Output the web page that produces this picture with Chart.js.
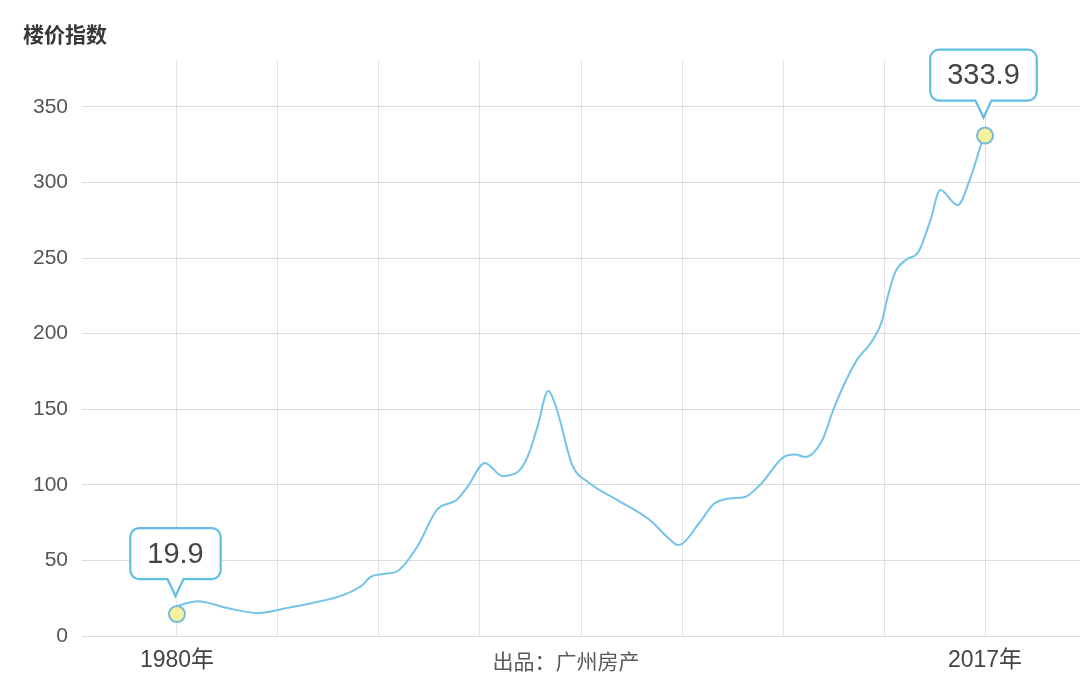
<!DOCTYPE html>
<html>
<head>
<meta charset="utf-8">
<script src="https://cdn.jsdelivr.net/npm/chart.js@4/dist/chart.umd.min.js"></script>
<style>
html,body{margin:0;padding:0;background:#fff;overflow:hidden;}
#wrap{width:1080px;height:692px;position:relative;}
</style>
</head>
<body>
<div id="wrap"><canvas id="c"></canvas></div>
<script>
// ---- data ----
const years = [1980, 1980.95, 1982.3, 1983.7, 1985.2, 1986.2, 1987.6, 1988.5, 1988.85, 1989.45, 1990.1, 1991.0, 1991.9, 1992.8, 1993.3, 1994.1, 1994.9, 1995.6, 1996.05, 1996.5, 1997.0, 1997.4, 1998.1, 1998.8, 2000.15, 2001.65, 2002.45, 2002.95, 2003.95, 2004.55, 2005.3, 2006.0, 2006.7, 2007.75, 2008.3, 2008.75, 2009.55, 2010.05, 2010.6, 2011.15, 2011.8, 2012.3, 2012.5, 2012.9, 2013.4, 2013.95, 2014.5, 2014.95, 2015.75, 2016.3, 2017];
const values = [19.9, 23, 18.5, 15.2, 19, 21.8, 27, 33.7, 39, 41, 43, 59, 83.4, 90, 98.6, 114.5, 105.9, 108.5, 118.4, 138, 162, 149.5, 113, 102, 90, 76.7, 65.5, 60.2, 75.4, 87, 91, 92, 100, 118, 120, 118.4, 129.7, 149.5, 168, 183, 194.5, 209, 222, 241, 249, 254, 275, 295, 285, 301.7, 333.9];
const markerYears = [1980, 2017];
const markerValues = [14.5, 331];
const calloutLabels = ['19.9', '333.9'];
const yTicks = [0, 50, 100, 150, 200, 250, 300, 350];
const xGridStep = 4.625;
const xLabelMap = {1980: '1980年', 2017: '2017年'};
const titleText = '楼价指数';
const footText = '出品：广州房产';

const FONT = '"Liberation Sans", "Noto Sans CJK SC", Arial, sans-serif';
const CJK = '"Noto Sans CJK SC", "Liberation Sans", sans-serif';

const lineData = years.map((y, i) => ({x: y, y: values[i]}));
const markerData = markerYears.map((y, i) => ({x: y, y: markerValues[i]}));

const calloutPlugin = {
  id: 'callouts',
  afterDatasetsDraw(chart) {
    const ctx = chart.ctx;
    const meta = chart.getDatasetMeta(1);
    ctx.save();
    ctx.font = '29px ' + FONT;
    meta.data.forEach((el, i) => {
      const txt = calloutLabels[i];
      const tw = ctx.measureText(txt).width;
      const w = tw + 34, h = 51, r = 9;
      const cx = el.x - 1.5;
      const bottom = el.y - 35;
      const top = bottom - h;
      const left = cx - w / 2, right = cx + w / 2;
      const tipY = el.y - 18;
      ctx.beginPath();
      ctx.moveTo(left + r, top);
      ctx.lineTo(right - r, top);
      ctx.arcTo(right, top, right, top + r, r);
      ctx.lineTo(right, bottom - r);
      ctx.arcTo(right, bottom, right - r, bottom, r);
      ctx.lineTo(cx + 8, bottom);
      ctx.lineTo(cx, tipY);
      ctx.lineTo(cx - 8, bottom);
      ctx.lineTo(left + r, bottom);
      ctx.arcTo(left, bottom, left, bottom - r, r);
      ctx.lineTo(left, top + r);
      ctx.arcTo(left, top, left + r, top, r);
      ctx.closePath();
      ctx.fillStyle = '#ffffff';
      ctx.fill();
      ctx.lineWidth = 2.2;
      ctx.strokeStyle = '#62bde6';
      ctx.stroke();
      ctx.fillStyle = '#444444';
      ctx.textAlign = 'center';
      ctx.textBaseline = 'middle';
      ctx.fillText(txt, cx, top + h / 2 + 1);
    });
    ctx.restore();
  }
};

const textPlugin = {
  id: 'texts',
  afterDraw(chart) {
    const ctx = chart.ctx;
    ctx.save();
    ctx.fillStyle = '#383838';
    ctx.font = 'bold 21px ' + CJK;
    ctx.textAlign = 'left';
    ctx.textBaseline = 'middle';
    ctx.fillText(titleText, 23, 34);
    ctx.fillStyle = '#5a5a5a';
    ctx.font = '21px ' + CJK;
    ctx.textAlign = 'center';
    ctx.fillText(footText, 566, 661);
    ctx.restore();
  }
};

new Chart(document.getElementById('c'), {
  type: 'line',
  data: {
    datasets: [
      {
        data: lineData,
        borderColor: '#74c3e9',
        borderWidth: 2,
        pointRadius: 0,
        fill: false,
        cubicInterpolationMode: 'monotone',
        order: 2
      },
      {
        data: markerData,
        showLine: false,
        pointRadius: 8,
        pointBackgroundColor: '#f4f29c',
        pointBorderColor: '#78b9dc',
        pointBorderWidth: 2,
        order: 1
      }
    ]
  },
  options: {
    responsive: true,
    maintainAspectRatio: false,
    animation: false,
    layout: {autoPadding: false, padding: {top: 60, left: 0, right: 0, bottom: 0}},
    plugins: {legend: {display: false}, tooltip: {enabled: false}, title: {display: false}},
    scales: {
      x: {
        type: 'linear',
        min: 1975.65,
        max: 2021.35,
        afterBuildTicks(scale) {
          const t = [];
          for (let k = 0; k <= 8; k++) t.push({value: 1980 + k * xGridStep});
          scale.ticks = t;
        },
        afterFit(scale) {
          scale.height = 56;
          scale.paddingLeft = 0;
          scale.paddingRight = 0;
        },
        border: {display: false},
        grid: {color: '#e2e2e8', lineWidth: 1, drawTicks: false},
        ticks: {
          padding: 11,
          maxRotation: 0,
          autoSkip: false,
          color: '#444444',
          font: {size: 23, family: FONT},
          callback(v) {
            const r = Math.round(v * 1000) / 1000;
            return xLabelMap[r] || '';
          }
        }
      },
      y: {
        min: 0,
        max: 381,
        afterBuildTicks(scale) {
          scale.ticks = yTicks.map(v => ({value: v}));
        },
        afterFit(scale) {
          scale.width = 82;
          scale.paddingTop = 0;
          scale.paddingBottom = 0;
        },
        border: {display: false},
        grid: {color: '#dcdce0', lineWidth: 1, drawTicks: false},
        ticks: {
          padding: 14,
          color: '#555555',
          font: {size: 21, family: FONT}
        }
      }
    }
  },
  plugins: [calloutPlugin, textPlugin]
});
</script>
</body>
</html>
